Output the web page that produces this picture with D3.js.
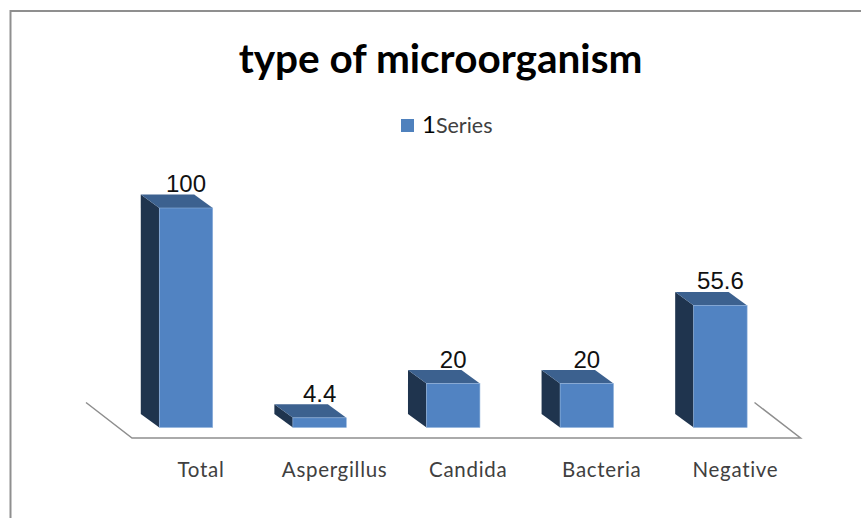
<!DOCTYPE html>
<html>
<head>
<meta charset="utf-8">
<script src="https://cdn.jsdelivr.net/npm/d3@7"></script>
<style>
  html, body { margin: 0; padding: 0; background: #fff; }
  svg { display: block; }
</style>
</head>
<body>
<div id="chart"></div>
<script>
const width = 861;
const height = 518;

const categories = ["Total", "Aspergillus", "Candida", "Bacteria", "Negative"];
const values = [100, 4.4, 20, 20, 55.6];
const valueLabels = ["100", "4.4", "20", "20", "55.6"];
const legendLabel = ["1", "Series"];
const title = "type of microorganism";

const depthX = 18.5;
const depthY = 13.5;
const baseY = 427.5;

const svg = d3.select("#chart")
    .append("svg")
    .attr("width", width)
    .attr("height", height);

const x = d3.scaleBand()
    .domain(categories)
    .range([119.2, 787.2])
    .paddingInner(0.6)
    .paddingOuter(0.3);

const y = d3.scaleLinear()
    .domain([0, 100])
    .range([baseY, 208]);

// outer frame, only top and left show
svg.append("path")
    .attr("d", "M10.5,518V11H861")
    .attr("fill", "none")
    .attr("stroke", "#8f8f8f")
    .attr("stroke-width", 2);

// floor of the 3d box
svg.append("path")
    .attr("d", "M86,402.5L132,438H800.5L754.5,402.5")
    .attr("fill", "none")
    .attr("stroke", "#8e8e8e")
    .attr("stroke-width", 1.5);

const bars = svg.selectAll(".bar")
    .data(categories)
    .enter()
    .append("g")
    .attr("class", "bar");

// side face
bars.append("path")
    .attr("fill", "#1f344e")
    .attr("d", (d, i) => {
        const x0 = x(d);
        const top = y(values[i]);
        return `M${x0},${top}L${x0 - depthX},${top - depthY}V${baseY - depthY}L${x0},${baseY}Z`;
    });

// top face
bars.append("path")
    .attr("fill", "#3c618f")
    .attr("d", (d, i) => {
        const x0 = x(d);
        const x1 = x0 + x.bandwidth();
        const top = y(values[i]);
        return `M${x0},${top}L${x0 - depthX},${top - depthY}H${x1 - depthX}L${x1},${top}Z`;
    });

// front face
bars.append("rect")
    .attr("x", d => x(d))
    .attr("y", (d, i) => y(values[i]))
    .attr("width", x.bandwidth())
    .attr("height", (d, i) => baseY - y(values[i]))
    .attr("fill", "#5183c2")
    .attr("stroke", "#8fb2dc")
    .attr("stroke-width", 0.6);

bars.append("text")
    .attr("x", d => x(d) + x.bandwidth() / 2)
    .attr("y", (d, i) => y(values[i]) - 16)
    .attr("text-anchor", "middle")
    .style("font-family", "'Liberation Sans'")
    .style("font-size", "24px")
    .style("fill", "#111")
    .text((d, i) => valueLabels[i]);

// category labels through an axis, shifted with the floor
const xAxis = svg.append("g")
    .attr("transform", "translate(15,462)")
    .call(d3.axisBottom(x).tickSize(0).tickPadding(0));
xAxis.select(".domain").remove();
xAxis.selectAll("text")
    .style("font-family", "Lato")
    .style("font-size", "20.5px")
    .style("letter-spacing", "0.7px")
    .style("fill", "#404040");

svg.append("text")
    .attr("x", 440.5)
    .attr("y", 73)
    .attr("text-anchor", "middle")
    .style("font-family", "Lato")
    .style("font-weight", "bold")
    .style("font-size", "40.5px")
    .style("fill", "#000")
    .text(title);

// legend
svg.append("rect")
    .attr("x", 401)
    .attr("y", 119)
    .attr("width", 13)
    .attr("height", 13)
    .attr("fill", "#4f81bd");

const legendText = svg.append("text")
    .attr("x", 422)
    .attr("y", 133)
    .style("font-family", "Lato")
    .style("font-size", "21.5px")
    .style("fill", "#404040");
legendText.append("tspan")
    .style("font-size", "24px")
    .style("fill", "#000")
    .text(legendLabel[0]);
legendText.append("tspan")
    .text(legendLabel[1]);
</script>
</body>
</html>
